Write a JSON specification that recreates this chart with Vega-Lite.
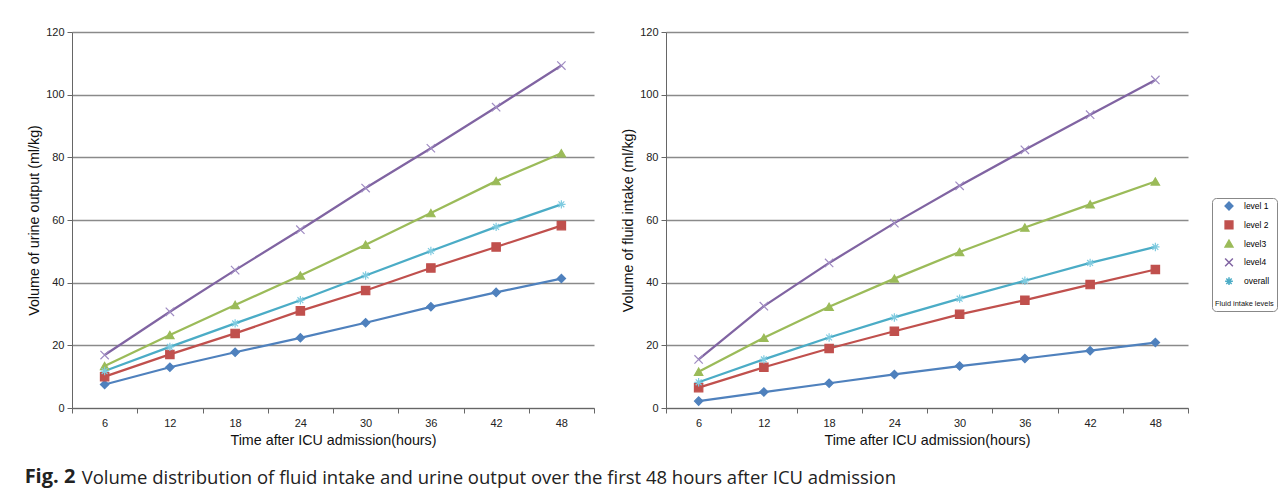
{
  "$schema": "https://vega.github.io/schema/vega-lite/v6.json",
  "background": "white",
  "padding": {"left": 24, "top": 26, "right": 5, "bottom": 5},
  "data": {"values": [
    {"panel": "urine", "hour": 6, "series": "level 1", "value": 7.5},
    {"panel": "urine", "hour": 12, "series": "level 1", "value": 13.0},
    {"panel": "urine", "hour": 18, "series": "level 1", "value": 17.8},
    {"panel": "urine", "hour": 24, "series": "level 1", "value": 22.4},
    {"panel": "urine", "hour": 30, "series": "level 1", "value": 27.2},
    {"panel": "urine", "hour": 36, "series": "level 1", "value": 32.3},
    {"panel": "urine", "hour": 42, "series": "level 1", "value": 36.9},
    {"panel": "urine", "hour": 48, "series": "level 1", "value": 41.3},
    {"panel": "urine", "hour": 6, "series": "level 2", "value": 10.0},
    {"panel": "urine", "hour": 12, "series": "level 2", "value": 17.1},
    {"panel": "urine", "hour": 18, "series": "level 2", "value": 23.8},
    {"panel": "urine", "hour": 24, "series": "level 2", "value": 31.0},
    {"panel": "urine", "hour": 30, "series": "level 2", "value": 37.5},
    {"panel": "urine", "hour": 36, "series": "level 2", "value": 44.7},
    {"panel": "urine", "hour": 42, "series": "level 2", "value": 51.4},
    {"panel": "urine", "hour": 48, "series": "level 2", "value": 58.2},
    {"panel": "urine", "hour": 6, "series": "level3", "value": 13.4},
    {"panel": "urine", "hour": 12, "series": "level3", "value": 23.3},
    {"panel": "urine", "hour": 18, "series": "level3", "value": 32.9},
    {"panel": "urine", "hour": 24, "series": "level3", "value": 42.3},
    {"panel": "urine", "hour": 30, "series": "level3", "value": 52.1},
    {"panel": "urine", "hour": 36, "series": "level3", "value": 62.2},
    {"panel": "urine", "hour": 42, "series": "level3", "value": 72.4},
    {"panel": "urine", "hour": 48, "series": "level3", "value": 81.3},
    {"panel": "urine", "hour": 6, "series": "level4", "value": 16.9},
    {"panel": "urine", "hour": 12, "series": "level4", "value": 30.7},
    {"panel": "urine", "hour": 18, "series": "level4", "value": 44.0},
    {"panel": "urine", "hour": 24, "series": "level4", "value": 56.9},
    {"panel": "urine", "hour": 30, "series": "level4", "value": 70.2},
    {"panel": "urine", "hour": 36, "series": "level4", "value": 82.9},
    {"panel": "urine", "hour": 42, "series": "level4", "value": 96.0},
    {"panel": "urine", "hour": 48, "series": "level4", "value": 109.3},
    {"panel": "urine", "hour": 6, "series": "overall", "value": 11.8},
    {"panel": "urine", "hour": 12, "series": "overall", "value": 19.5},
    {"panel": "urine", "hour": 18, "series": "overall", "value": 27.0},
    {"panel": "urine", "hour": 24, "series": "overall", "value": 34.4},
    {"panel": "urine", "hour": 30, "series": "overall", "value": 42.3},
    {"panel": "urine", "hour": 36, "series": "overall", "value": 50.1},
    {"panel": "urine", "hour": 42, "series": "overall", "value": 57.8},
    {"panel": "urine", "hour": 48, "series": "overall", "value": 65.0},
    {"panel": "fluid", "hour": 6, "series": "level 1", "value": 2.2},
    {"panel": "fluid", "hour": 12, "series": "level 1", "value": 5.1},
    {"panel": "fluid", "hour": 18, "series": "level 1", "value": 7.9},
    {"panel": "fluid", "hour": 24, "series": "level 1", "value": 10.7},
    {"panel": "fluid", "hour": 30, "series": "level 1", "value": 13.4},
    {"panel": "fluid", "hour": 36, "series": "level 1", "value": 15.8},
    {"panel": "fluid", "hour": 42, "series": "level 1", "value": 18.3},
    {"panel": "fluid", "hour": 48, "series": "level 1", "value": 20.9},
    {"panel": "fluid", "hour": 6, "series": "level 2", "value": 6.5},
    {"panel": "fluid", "hour": 12, "series": "level 2", "value": 13.0},
    {"panel": "fluid", "hour": 18, "series": "level 2", "value": 19.0},
    {"panel": "fluid", "hour": 24, "series": "level 2", "value": 24.5},
    {"panel": "fluid", "hour": 30, "series": "level 2", "value": 29.9},
    {"panel": "fluid", "hour": 36, "series": "level 2", "value": 34.4},
    {"panel": "fluid", "hour": 42, "series": "level 2", "value": 39.4},
    {"panel": "fluid", "hour": 48, "series": "level 2", "value": 44.2},
    {"panel": "fluid", "hour": 6, "series": "level3", "value": 11.6},
    {"panel": "fluid", "hour": 12, "series": "level3", "value": 22.4},
    {"panel": "fluid", "hour": 18, "series": "level3", "value": 32.3},
    {"panel": "fluid", "hour": 24, "series": "level3", "value": 41.3},
    {"panel": "fluid", "hour": 30, "series": "level3", "value": 49.8},
    {"panel": "fluid", "hour": 36, "series": "level3", "value": 57.6},
    {"panel": "fluid", "hour": 42, "series": "level3", "value": 65.0},
    {"panel": "fluid", "hour": 48, "series": "level3", "value": 72.3},
    {"panel": "fluid", "hour": 6, "series": "level4", "value": 15.5},
    {"panel": "fluid", "hour": 12, "series": "level4", "value": 32.5},
    {"panel": "fluid", "hour": 18, "series": "level4", "value": 46.3},
    {"panel": "fluid", "hour": 24, "series": "level4", "value": 59.0},
    {"panel": "fluid", "hour": 30, "series": "level4", "value": 70.9},
    {"panel": "fluid", "hour": 36, "series": "level4", "value": 82.4},
    {"panel": "fluid", "hour": 42, "series": "level4", "value": 93.6},
    {"panel": "fluid", "hour": 48, "series": "level4", "value": 104.7},
    {"panel": "fluid", "hour": 6, "series": "overall", "value": 8.2},
    {"panel": "fluid", "hour": 12, "series": "overall", "value": 15.5},
    {"panel": "fluid", "hour": 18, "series": "overall", "value": 22.5},
    {"panel": "fluid", "hour": 24, "series": "overall", "value": 28.9},
    {"panel": "fluid", "hour": 30, "series": "overall", "value": 34.9},
    {"panel": "fluid", "hour": 36, "series": "overall", "value": 40.6},
    {"panel": "fluid", "hour": 42, "series": "overall", "value": 46.3},
    {"panel": "fluid", "hour": 48, "series": "overall", "value": 51.4}
  ]},
  "config": {
    "font": "Liberation Sans",
    "view": {"stroke": null},
    "axis": {
      "labelFont": "Liberation Sans",
      "titleFont": "Liberation Sans",
      "labelFontSize": 11,
      "labelColor": "#222",
      "titleFontSize": 14.3,
      "titleFontWeight": "normal",
      "titleColor": "#111",
      "domainColor": "#666",
      "tickColor": "#666",
      "tickSize": 5
    }
  },
  "title": {
    "text": "Volume distribution of fluid intake and urine output over the first 48 hours after ICU admission",
    "orient": "bottom",
    "anchor": "start",
    "font": "Open Sans",
    "fontSize": 18.5,
    "fontWeight": "normal",
    "color": "#222",
    "dx": 57,
    "dy": -18.8,
    "offset": 0
  },
  "vconcat": [
    {
      "title": {
        "text": "Fig. 2",
        "orient": "bottom",
        "anchor": "start",
        "font": "Open Sans",
        "fontSize": 20,
        "fontWeight": "bold",
        "color": "#222",
        "dx": -3,
        "offset": 20
      },
      "hconcat": [
        {
          "width": 522,
          "height": 376,
          "transform": [{"filter": "datum.panel === 'urine'"}],
          "layer": [
            {
              "mark": {"type": "line", "strokeWidth": 2.25},
              "encoding": {
                "x": {"field": "hour", "type": "ordinal", "scale": {"type": "band", "paddingInner": 0, "paddingOuter": 0},
                      "axis": {"title": "Time after ICU admission(hours)", "labelAngle": 0, "tickBand": "extent", "labelPadding": 4, "titlePadding": 5, "grid": false}},
                "y": {"field": "value", "type": "quantitative", "scale": {"domain": [0, 120], "nice": false},
                      "axis": {"title": "Volume of urine output (ml/kg)", "values": [0, 20, 40, 60, 80, 100, 120], "grid": true, "gridColor": "#8a8a8a", "gridWidth": 1.5, "labelPadding": 3, "titlePadding": 4}},
                "stroke": {"field": "series", "type": "nominal",
                          "scale": {"domain": ["level 1", "level 2", "level3", "level4", "overall"], "range": ["#4F81BD", "#C0504D", "#9BBB59", "#8064A2", "#4BACC6"]}},
                "order": {"field": "hour", "type": "quantitative"}
              }
            },
            {
              "mark": {"type": "point", "filled": false, "strokeWidth": 1.2, "opacity": 1, "fillOpacity": 1},
              "encoding": {
                "x": {"field": "hour", "type": "ordinal"},
                "y": {"field": "value", "type": "quantitative"},
                "color": {"field": "series", "type": "nominal",
                          "scale": {"domain": ["level 1", "level 2", "level3", "level4", "overall"], "range": ["#4F81BD", "#C0504D", "#9BBB59", "#9f8bc2", "#7fcbe0"]},
                          "legend": {"orient": "none", "legendX": 1140, "legendY": 166, "title": "Fluid intake levels", "titleOrient": "bottom", "titleFontSize": 7.4, "titleFontWeight": "normal", "titleColor": "#111", "titleFont": "Liberation Sans", "titlePadding": 12, "labelFont": "Liberation Sans", "labelFontSize": 8.5, "strokeColor": "#888", "cornerRadius": 4, "padding": 3, "rowPadding": 4.8, "symbolSize": 60, "symbolOffset": 9, "symbolStrokeWidth": 1.5, "labelOffset": 10,
                                     "encode": {
                                       "labels": {"update": {"fill": {"scale": "stroke", "field": "value"}}},
                                       "symbols": {"update": {
                                         "stroke": {"scale": "stroke", "field": "value"},
                                         "fill": {"scale": "stroke", "field": "value"},
                                         "strokeWidth": {"value": 1.5},
                                         "opacity": {"value": 1}}}}}},
                "fill": {"field": "series", "type": "nominal",
                         "scale": {"domain": ["level 1", "level 2", "level3", "level4", "overall"], "range": ["#4F81BD", "#C0504D", "#9BBB59", "transparent", "transparent"]}},
                "shape": {"field": "series", "type": "nominal",
                          "scale": {"domain": ["level 1", "level 2", "level3", "level4", "overall"], "range": ["diamond", "square", "triangle-up", "M-1,-1L1,1M-1,1L1,-1", "M-1,0L1,0M0,-1L0,1M-0.7,-0.7L0.7,0.7M-0.7,0.7L0.7,-0.7"]}},
                "size": {"value": 70}
              }
            }
          ]
        },
        {
          "width": 522,
          "height": 376,
          "transform": [{"filter": "datum.panel === 'fluid'"}],
          "layer": [
            {
              "mark": {"type": "line", "strokeWidth": 2.25},
              "encoding": {
                "x": {"field": "hour", "type": "ordinal", "scale": {"type": "band", "paddingInner": 0, "paddingOuter": 0},
                      "axis": {"title": "Time after ICU admission(hours)", "labelAngle": 0, "tickBand": "extent", "labelPadding": 4, "titlePadding": 5, "grid": false}},
                "y": {"field": "value", "type": "quantitative", "scale": {"domain": [0, 120], "nice": false},
                      "axis": {"title": "Volume of fluid intake (ml/kg)", "values": [0, 20, 40, 60, 80, 100, 120], "grid": true, "gridColor": "#8a8a8a", "gridWidth": 1.5, "labelPadding": 3, "titlePadding": 4}},
                "stroke": {"field": "series", "type": "nominal"},
                "order": {"field": "hour", "type": "quantitative"}
              }
            },
            {
              "mark": {"type": "point", "filled": false, "strokeWidth": 1.2, "opacity": 1, "fillOpacity": 1},
              "encoding": {
                "x": {"field": "hour", "type": "ordinal"},
                "y": {"field": "value", "type": "quantitative"},
                "color": {"field": "series", "type": "nominal"},
                "fill": {"field": "series", "type": "nominal"},
                "shape": {"field": "series", "type": "nominal"},
                "size": {"value": 70}
              }
            }
          ]
        }
      ],
      "spacing": 26
    }
  ],
  "resolve": {"scale": {"x": "independent", "y": "independent"}}
}
